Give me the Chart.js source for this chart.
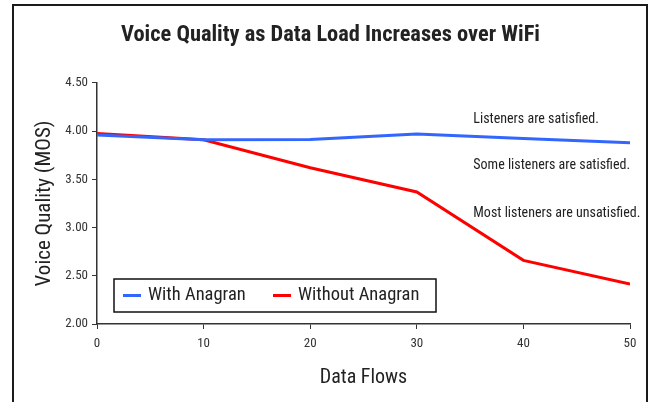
<!DOCTYPE html>
<html>
<head>
<meta charset="utf-8">
<script src="https://cdn.jsdelivr.net/npm/chart.js@4.4.1/dist/chart.umd.min.js"></script>
<style>
  html, body { margin: 0; padding: 0; background: #fff; overflow: hidden; }
  #wrap { position: relative; width: 652px; height: 402px; }
</style>
</head>
<body>
<div id="wrap"><canvas id="chart" width="652" height="402"></canvas></div>
<script>
const FONT = '"Roboto Condensed", "DejaVu Sans Condensed", sans-serif';
const TEXT = "#222";

const dataFlows = [0, 10, 20, 30, 40, 50];
const withAnagran = [3.96, 3.91, 3.915, 3.97, 3.925, 3.88];
const withoutAnagran = [3.975, 3.91, 3.62, 3.37, 2.66, 2.415];
const seriesLabels = ["With Anagran", "Without Anagran"];
const seriesColors = ["#3366ff", "#ff0000"];

const noteLabels = [
  "Listeners are satisfied.",
  "Some listeners are satisfied.",
  "Most listeners are unsatisfied.",
];
const noteLevels = [4.12, 3.64, 3.15];
const noteFlow = 35.3;

const toPoints = (values) => values.map((y, i) => ({ x: dataFlows[i], y }));

// white page + the outer frame around the whole chart
const framePlugin = {
  id: "frame",
  beforeDraw(chart) {
    const { ctx, width, height } = chart;
    ctx.save();
    ctx.fillStyle = "#fff";
    ctx.fillRect(0, 0, width, height);
    ctx.strokeStyle = "#1a1a1a";
    ctx.lineWidth = 2;
    ctx.strokeRect(13, 5, 634, height + 20);
    ctx.restore();
  },
};

// text notes on the right side of the plot
const notesPlugin = {
  id: "notes",
  afterDatasetsDraw(chart) {
    const { ctx, scales } = chart;
    ctx.save();
    ctx.font = `14px ${FONT}`;
    ctx.fillStyle = TEXT;
    ctx.textAlign = "left";
    ctx.textBaseline = "middle";
    noteLabels.forEach((label, i) => {
      ctx.fillText(label, scales.x.getPixelForValue(noteFlow), scales.y.getPixelForValue(noteLevels[i]));
    });
    ctx.restore();
  },
};

// boxed legend sitting inside the plot, bottom-left
const boxLegendPlugin = {
  id: "boxLegend",
  afterDraw(chart) {
    const { ctx, chartArea } = chart;
    const left = chartArea.left + 17;
    const top = chartArea.bottom - 45;
    const w = 322;
    const h = 33;
    ctx.save();
    ctx.fillStyle = "#fff";
    ctx.fillRect(left, top, w, h);
    ctx.strokeStyle = "#111";
    ctx.lineWidth = 1.5;
    ctx.strokeRect(left, top, w, h);
    ctx.font = `18.5px ${FONT}`;
    ctx.textBaseline = "middle";
    ctx.textAlign = "left";
    const offsets = [9, 159];
    chart.data.datasets.forEach((ds, i) => {
      const x = left + offsets[i];
      const y = top + h / 2;
      ctx.strokeStyle = ds.borderColor;
      ctx.lineWidth = 3;
      ctx.beginPath();
      ctx.moveTo(x, y);
      ctx.lineTo(x + 18, y);
      ctx.stroke();
      ctx.fillStyle = TEXT;
      ctx.fillText(ds.label, x + 25, y);
    });
    ctx.restore();
  },
};

new Chart(document.getElementById("chart"), {
  type: "line",
  data: {
    datasets: [
      { label: seriesLabels[0], data: toPoints(withAnagran), borderColor: seriesColors[0] },
      { label: seriesLabels[1], data: toPoints(withoutAnagran), borderColor: seriesColors[1] },
    ].map((ds) => ({
      ...ds,
      backgroundColor: ds.borderColor,
      borderWidth: 3,
      pointRadius: 0,
      tension: 0,
      fill: false,
    })),
  },
  options: {
    responsive: false,
    animation: false,
    events: [],
    layout: { padding: { left: 31, right: 22, top: 8, bottom: 0 } },
    scales: {
      x: {
        type: "linear",
        min: 0,
        max: 50,
        afterFit: (scale) => { scale.height = 78; },
        grid: { drawOnChartArea: false, drawTicks: true, tickLength: 5, color: "#333" },
        border: { color: "#333", width: 1.5 },
        ticks: { stepSize: 10, color: "#333", padding: 7, font: { family: FONT, size: 13 } },
        title: {
          display: true,
          text: "Data Flows",
          color: TEXT,
          font: { family: FONT, size: 20 },
          padding: { top: 0, bottom: 12 },
        },
      },
      y: {
        min: 2,
        max: 4.5,
        afterFit: (scale) => { scale.width = 66; },
        grid: { drawOnChartArea: false, drawTicks: true, tickLength: 5, color: "#333" },
        border: { color: "#333", width: 1.5 },
        ticks: {
          stepSize: 0.5,
          color: "#333",
          padding: 4,
          font: { family: FONT, size: 13 },
          callback: (value) => Number(value).toFixed(2),
        },
        title: {
          display: true,
          text: "Voice Quality (MOS)",
          color: TEXT,
          font: { family: FONT, size: 21 },
          padding: { top: 1, bottom: 0 },
        },
      },
    },
    plugins: {
      legend: { display: false },
      tooltip: { enabled: false },
      title: {
        display: true,
        text: "Voice Quality as Data Load Increases over WiFi",
        color: TEXT,
        font: { family: FONT, size: 22.4, weight: "bold" },
        padding: { top: 13.5, bottom: 34.6 },
      },
    },
  },
  plugins: [framePlugin, notesPlugin, boxLegendPlugin],
});
</script>
</body>
</html>
